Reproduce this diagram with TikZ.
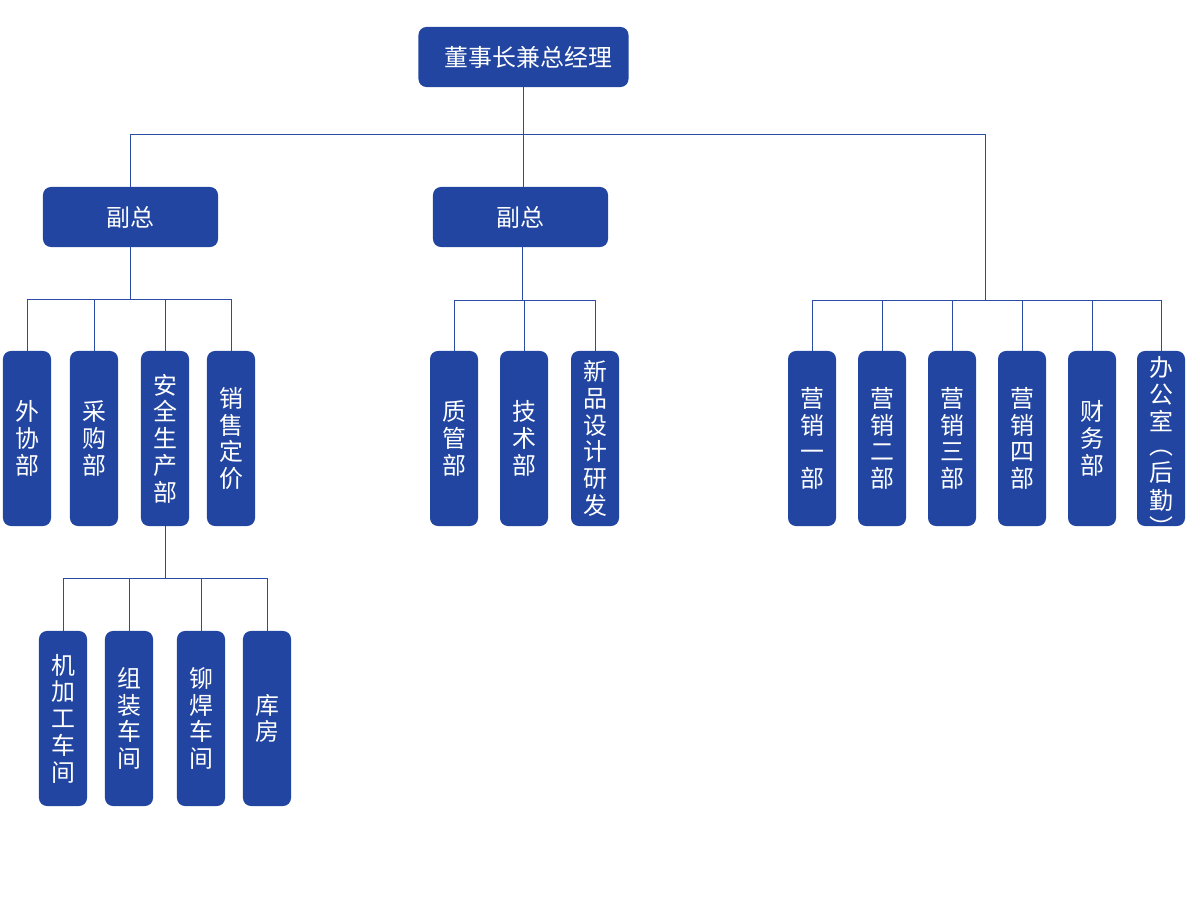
\documentclass[tikz,border=0pt]{standalone}
\usepackage{fontspec}
\newfontfamily\cjk{Noto Sans CJK SC}
\usetikzlibrary{positioning}
\definecolor{boxblue}{HTML}{2145A0}
\definecolor{wireblue}{HTML}{2A4CA6}

\begin{document}
\begin{tikzpicture}[
		x=0.025cm, y=-0.025cm,
		lead/.style={
			fill=boxblue, text=white, rounded corners=0.2cm,
			minimum width=5.25cm, minimum height=1.5cm, inner sep=0pt,
			font=\cjk\fontsize{17pt}{19pt}\selectfont
		},
		vice/.style={lead, minimum width=4.375cm},
		dept/.style={
			lead, minimum width=1.2cm, minimum height=4.375cm,
			align=center
		},
		wire/.style={draw=wireblue, line width=0.7pt}
	]
	\useasboundingbox (0,0) rectangle (1200,900);

	% top level
	\node[lead] (ceo) at (523.5,57) {\hspace{7pt}董事长兼总经理};
	\node[vice] (vpL) at (130.5,217) {副总};
	\node[vice] (vpM) at (520.5,217) {副总};

	% departments under the left vice
	\node[dept] (waixie) at (27,438.5) {外\\协\\部};
	\node[dept] (caigou) at (94,438.5) {采\\购\\部};
	\node[dept] (anquan) at (165,438.5) {安\\全\\生\\产\\部};
	\node[dept] (xiaoshou) at (231,438.5) {销\\售\\定\\价};

	% departments under the middle vice
	\node[dept] (zhiguan) at (454,438.5) {质\\管\\部};
	\node[dept] (jishu) at (524,438.5) {技\\术\\部};
	\node[dept] (yanfa) at (595,438.5) {新\\品\\设\\计\\研\\发};

	% departments under the chairman
	\node[dept] (ying1) at (812,438.5) {营\\销\\一\\部};
	\node[dept] (ying2) at (882,438.5) {营\\销\\二\\部};
	\node[dept] (ying3) at (952,438.5) {营\\销\\三\\部};
	\node[dept] (ying4) at (1022,438.5) {营\\销\\四\\部};
	\node[dept] (caiwu) at (1092,438.5) {财\\务\\部};
	\node[dept] (bangong) at (1161,438.5)
		{\renewcommand\arraystretch{0.9}%
		\smash{\raisebox{-12.5pt}{\begin{tabular}{@{}c@{}}办\\公\\室\\︵\\后\\勤\\︶\end{tabular}}}};

	% workshops
	\node[dept] (jijia) at (63,718.5) {机\\加\\工\\车\\间};
	\node[dept] (zuzhuang) at (129,718.5) {组\\装\\车\\间};
	\node[dept] (maohan) at (201,718.5) {铆\\焊\\车\\间};
	\node[dept] (kufang) at (267,718.5) {库\\房};

	% buses
	\coordinate (busTop) at (523.5,134);
	\coordinate (busL) at (130.5,299);
	\coordinate (busM) at (522,300);
	\coordinate (busR) at (985,300);
	\coordinate (busW) at (165,578);

	% connectors
	\draw[wire] (ceo) -- (busTop);
	\draw[wire] (busTop) -| (vpL);
	\draw[wire] (busTop) -- (vpM.north -| busTop);
	\draw[wire] (busTop) -| (busR);

	\draw[wire] (vpL) -- (busL);
	\foreach \d in {waixie, caigou, anquan, xiaoshou}
		\draw[wire] (busL) -| (\d);

	\draw[wire] (vpM.south -| busM) -- (busM);
	\foreach \d in {zhiguan, jishu, yanfa}
		\draw[wire] (busM) -| (\d);

	\foreach \d in {ying1, ying2, ying3, ying4, caiwu, bangong}
		\draw[wire] (busR) -| (\d);

	\draw[wire] (anquan) -- (busW);
	\foreach \d in {jijia, zuzhuang, maohan, kufang}
		\draw[wire] (busW) -| (\d);
\end{tikzpicture}
\end{document}
